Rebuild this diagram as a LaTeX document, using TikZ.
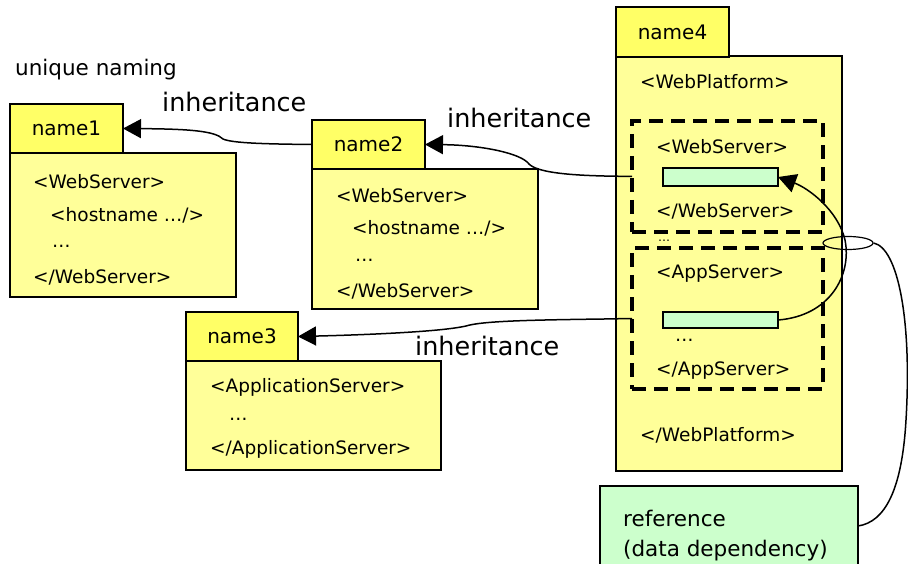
\documentclass[tikz,border=0pt]{standalone}
\usepackage{fontspec}
\setmainfont{DejaVu Sans}
\usetikzlibrary{arrows.meta,shapes.geometric}
\definecolor{tabyellow}{HTML}{FFFF66}
\definecolor{bodyyellow}{HTML}{FFFF99}
\definecolor{refgreen}{HTML}{CCFFCC}
\tikzset{
  tabbox/.style={draw=black, line width=1.4pt, fill=tabyellow, inner sep=0pt, outer sep=0pt,
    anchor=north west, font=\fontsize{20}{22}\selectfont},
  bodybox/.style={draw=black, line width=1.4pt, fill=bodyyellow, inner sep=0pt, outer sep=0pt, anchor=north west},
  slot/.style={draw=black, line width=1.2pt, fill=refgreen, inner sep=0pt, outer sep=0pt, anchor=north west},
  part/.style={draw=black, line width=3.5pt, dash pattern=on 14pt off 8pt, inner sep=0pt, outer sep=0pt, anchor=north west},
  code/.style={anchor=west, inner sep=0pt, font=\fontsize{18.5}{20}\selectfont},
  biglabel/.style={anchor=west, inner sep=0pt, font=\fontsize{25.5}{28}\selectfont},
  inh/.style={line width=1.5pt, -{Triangle[length=18pt,width=19pt]}},
  link/.style={line width=1.5pt}
}
\begin{document}
\begin{tikzpicture}[x=1pt,y=-1pt]
\useasboundingbox (0,0) rectangle (908,564);
\fill[white] (0,0) rectangle (908,564);

\node[anchor=west, inner sep=0pt, font=\fontsize{21.5}{23}\selectfont] (uniq) at (15,70) {unique naming};

% name1
\node[bodybox, minimum width=226, minimum height=144] (b1) at (10,153) {};
\node[tabbox, minimum width=113, minimum height=49] (t1) at (10,104) {name1};
\node[code] (b1a) at (33,182) {<WebServer>};
\node[code] (b1b) at (50,215) {<hostname …/>};
\node[code] (b1c) at (52,246) {…};
\node[code] (b1d) at (33,277) {</WebServer>};

% name2
\node[bodybox, minimum width=226, minimum height=140] (b2) at (312,169) {};
\node[tabbox, minimum width=113, minimum height=49] (t2) at (312,120) {name2};
\node[code] (b2a) at (336,196) {<WebServer>};
\node[code] (b2b) at (352,228) {<hostname …/>};
\node[code] (b2c) at (355,260) {…};
\node[code] (b2d) at (336,291) {</WebServer>};

% name3
\node[bodybox, minimum width=255, minimum height=109] (b3) at (186,361) {};
\node[tabbox, minimum width=112, minimum height=49] (t3) at (186,312) {name3};
\node[code] (b3a) at (210,387) {<ApplicationServer>};
\node[code] (b3b) at (229,419) {…};
\node[code] (b3c) at (210,449) {</ApplicationServer>};

% name4
\node[bodybox, minimum width=226, minimum height=415] (b4) at (616,56) {};
\node[tabbox, minimum width=113, minimum height=50] (t4) at (616,7) {name4};
\node[code] (b4a) at (640,82) {<WebPlatform>};
\node[code] (b4z) at (640,435) {</WebPlatform>};

\node[part, minimum width=191, minimum height=111] (d1) at (632,121) {};
\node[code] (d1a) at (656,147) {<WebServer>};
\node[slot, minimum width=115, minimum height=18] (g1) at (663,168) {};
\node[code] (d1b) at (656,211) {</WebServer>};

\node[code, font=\fontsize{12}{13}\selectfont] (dots) at (658,241) {…};

\node[part, minimum width=191, minimum height=141] (d2) at (632,248) {};
\node[code] (d2a) at (656,274) {<AppServer>};
\node[slot, minimum width=115, minimum height=16] (g2) at (663,312) {};
\node[code] (d2b) at (675,340) {…};
\node[code] (d2c) at (656,371) {</AppServer>};

% reference box
\node[draw=black, line width=1.4pt, fill=refgreen, inner sep=0pt, outer sep=0pt, anchor=north west,
  minimum width=258, minimum height=80] (ref) at (600,486) {};
\node[code, font=\fontsize{21.5}{23}\selectfont] (r1) at (623,518) {reference};
\node[code, font=\fontsize{21.5}{23}\selectfont] (r2) at (623,551) {(data dependency)};

% inheritance labels
\node[biglabel] (l1) at (162,102) {inheritance};
\node[biglabel] (l2) at (447,118) {inheritance};
\node[biglabel] (l3) at (415,346) {inheritance};

% inheritance connectors
\draw[inh] (t2.west) .. controls (262,144) and (232,143) .. (223,139)
  .. controls (215,131) and (190,129) .. (t1.east);
\draw[inh] (d1.west) -- (604,176) .. controls (565,175) and (537,172) .. (529,164)
  .. controls (521,153) and (480,145) .. (t2.east);
\draw[inh] (d2.west) -- (604,319) .. controls (530,320) and (482,321) .. (466,326)
  .. controls (440,332) and (360,335) .. (t3.east);

% data dependency reference
\node[draw=black, line width=1.2pt, ellipse, minimum width=50, minimum height=13, inner sep=0pt] (el) at (848,243) {};
\draw[link, -{Triangle[length=18pt,width=19pt]}] (g2.east) .. controls (830,316) and (852,275) .. (845,240)
  .. controls (838,210) and (808,188) .. (g1.east);
\draw[link] (el.east) .. controls (898,248) and (912,320) .. (906,420)
  .. controls (902,490) and (885,522) .. (ref.east);
\end{tikzpicture}
\end{document}
